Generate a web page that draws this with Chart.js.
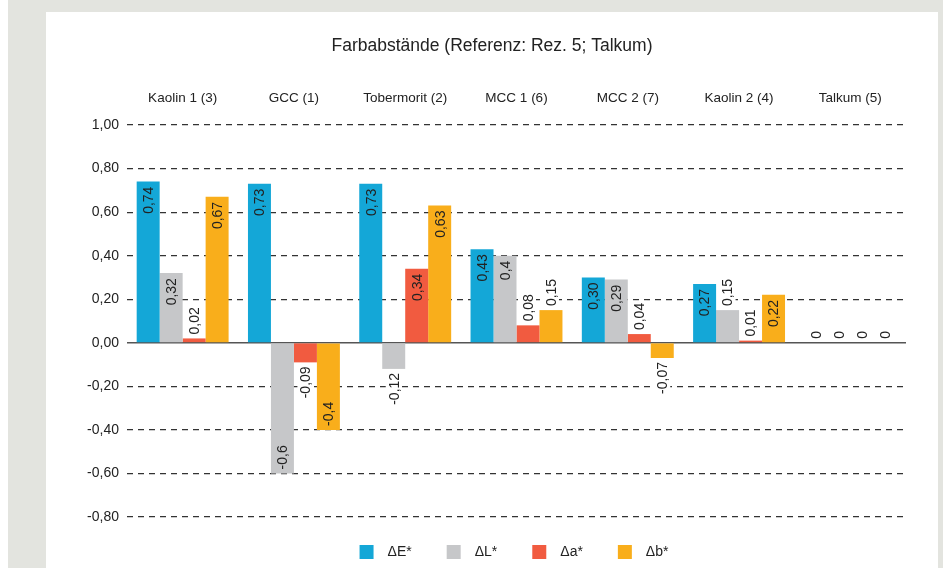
<!DOCTYPE html>
<html>
<head>
<meta charset="utf-8">
<script src="https://cdn.jsdelivr.net/npm/chart.js@4.4.1/dist/chart.umd.min.js"></script>
<style>
html, body { margin: 0; padding: 0; background: #fff; }
#bg { position: absolute; left: 8px; top: 0; width: 935px; height: 568px; background: #e3e4df; }
#panel { position: absolute; left: 46px; top: 12px; width: 892px; height: 556px; background: #fff; }
</style>
</head>
<body>
<div id="bg"></div>
<div id="panel"><canvas id="chart"></canvas></div>
<script>
var categories = ['Kaolin 1 (3)', 'GCC (1)', 'Tobermorit (2)', 'MCC 1 (6)', 'MCC 2 (7)', 'Kaolin 2 (4)', 'Talkum (5)'];
var deltaE = [0.74, 0.73, 0.73, 0.43, 0.30, 0.27, 0];
var deltaL = [0.32, -0.6, -0.12, 0.4, 0.29, 0.15, 0];
var deltaA = [0.02, -0.09, 0.34, 0.08, 0.04, 0.01, 0];
var deltaB = [0.67, -0.4, 0.63, 0.15, -0.07, 0.22, 0];
// labels as printed in the original
var deltaEText = ['0,74', '0,73', '0,73', '0,43', '0,30', '0,27', '0'];
var deltaLText = ['0,32', '-0,6', '-0,12', '0,4', '0,29', '0,15', '0'];
var deltaAText = ['0,02', '-0,09', '0,34', '0,08', '0,04', '0,01', '0'];
var deltaBText = ['0,67', '-0,4', '0,63', '0,15', '-0,07', '0,22', '0'];
var valueTexts = [deltaEText, deltaLText, deltaAText, deltaBText];

var FONT = '"Liberation Sans", Arial, sans-serif';

var zeroLine = {
    id: 'zeroLine',
    beforeDatasetsDraw: function(chart) {
        var ctx = chart.ctx;
        var a = chart.chartArea;
        var y = chart.scales.y.getPixelForValue(0);
        ctx.save();
        ctx.strokeStyle = '#555';
        ctx.lineWidth = 1.5;
        ctx.beginPath();
        ctx.moveTo(a.left, y);
        ctx.lineTo(a.right, y);
        ctx.stroke();
        ctx.restore();
    }
};

// title centred on the whole panel, legend centred under the plot area
var shiftBoxes = {
    id: 'shiftBoxes',
    afterLayout: function(chart) {
        chart.titleBlock.right += 32;
        chart.legend.left += 76;
    }
};

var valueLabels = {
    id: 'valueLabels',
    afterDatasetsDraw: function(chart) {
        var ctx = chart.ctx;
        var zeroY = chart.scales.y.getPixelForValue(0);
        ctx.save();
        ctx.font = '14px ' + FONT;
        ctx.textBaseline = 'middle';
        chart.data.datasets.forEach(function(ds, di) {
            var meta = chart.getDatasetMeta(di);
            meta.data.forEach(function(bar, i) {
                var v = ds.data[i];
                var txt = valueTexts[di][i];
                var w = ctx.measureText(txt).width;
                var h = Math.abs(bar.y - zeroY);
                var inside = h > w + 12;
                var y, align;
                if (v > 0 && inside) { y = bar.y + 5; align = 'right'; }
                else if (v >= 0) { y = bar.y - 4; align = 'left'; }
                else if (inside) { y = bar.y - 4; align = 'left'; }
                else { y = bar.y + 4; align = 'right'; }
                ctx.save();
                ctx.translate(bar.x, y);
                ctx.rotate(-Math.PI / 2);
                ctx.textAlign = align;
                if (!inside && v !== 0) {
                    ctx.fillStyle = '#fff';
                    var x0 = align === 'left' ? 0 : -w;
                    ctx.fillRect(x0 - 2, -8, w + 4, 16);
                }
                ctx.fillStyle = '#222';
                ctx.fillText(txt, 0, 1);
                ctx.restore();
            });
        });
        ctx.restore();
    }
};

var ctx = document.getElementById('chart').getContext('2d');
var chart = new Chart(ctx, {
    type: 'bar',
    data: {
        labels: categories,
        datasets: [
            { label: 'ΔE*', data: deltaE, backgroundColor: '#14a7d7' },
            { label: 'ΔL*', data: deltaL, backgroundColor: '#c6c7c9' },
            { label: 'Δa*', data: deltaA, backgroundColor: '#f15b40' },
            { label: 'Δb*', data: deltaB, backgroundColor: '#f9ae1b' }
        ]
    },
    options: {
        responsive: true,
        maintainAspectRatio: false,
        animation: false,
        categoryPercentage: 0.826,
        barPercentage: 1,
        layout: { padding: { left: 0, right: 32, top: 0, bottom: -1 } },
        scales: {
            x: {
                position: 'top',
                grid: { display: false, drawTicks: false },
                border: { display: false },
                ticks: { color: '#222', font: { family: FONT, size: 13.5 }, padding: 19, maxRotation: 0 },
                afterFit: function(s) { s.height = 40; }
            },
            y: {
                min: -0.8,
                max: 1.0,
                grid: {
                    drawTicks: false,
                    lineWidth: 1.2,
                    color: function(c) { return c.tick && c.tick.value === 0 ? 'rgba(0,0,0,0)' : '#333'; }
                },
                border: { display: false, dash: [6, 5] },
                ticks: {
                    stepSize: 0.2,
                    padding: 8,
                    color: '#222',
                    font: { family: FONT, size: 14 },
                    callback: function(v) { return v.toFixed(2).replace('.', ','); }
                },
                afterFit: function(s) { s.width = 81; }
            }
        },
        plugins: {
            title: {
                display: true,
                text: 'Farbabstände (Referenz: Rez. 5; Talkum)',
                color: '#222',
                font: { family: FONT, size: 17.5, weight: 'normal' },
                padding: { top: 24, bottom: 28 }
            },
            legend: {
                display: true,
                position: 'bottom',
                labels: {
                    boxWidth: 14,
                    boxHeight: 14,
                    padding: 28,
                    color: '#222',
                    font: { family: FONT, size: 14 },
                    generateLabels: function(chart) {
                        var items = Chart.defaults.plugins.legend.labels.generateLabels(chart);
                        items.forEach(function(it, i) {
                            it.text = '\u2002' + it.text + (i < items.length - 1 ? '\u2002' : '');
                            it.lineWidth = 0;
                        });
                        return items;
                    }
                }
            },
            tooltip: { enabled: false }
        }
    },
    plugins: [zeroLine, shiftBoxes, valueLabels]
});
</script>
</body>
</html>
